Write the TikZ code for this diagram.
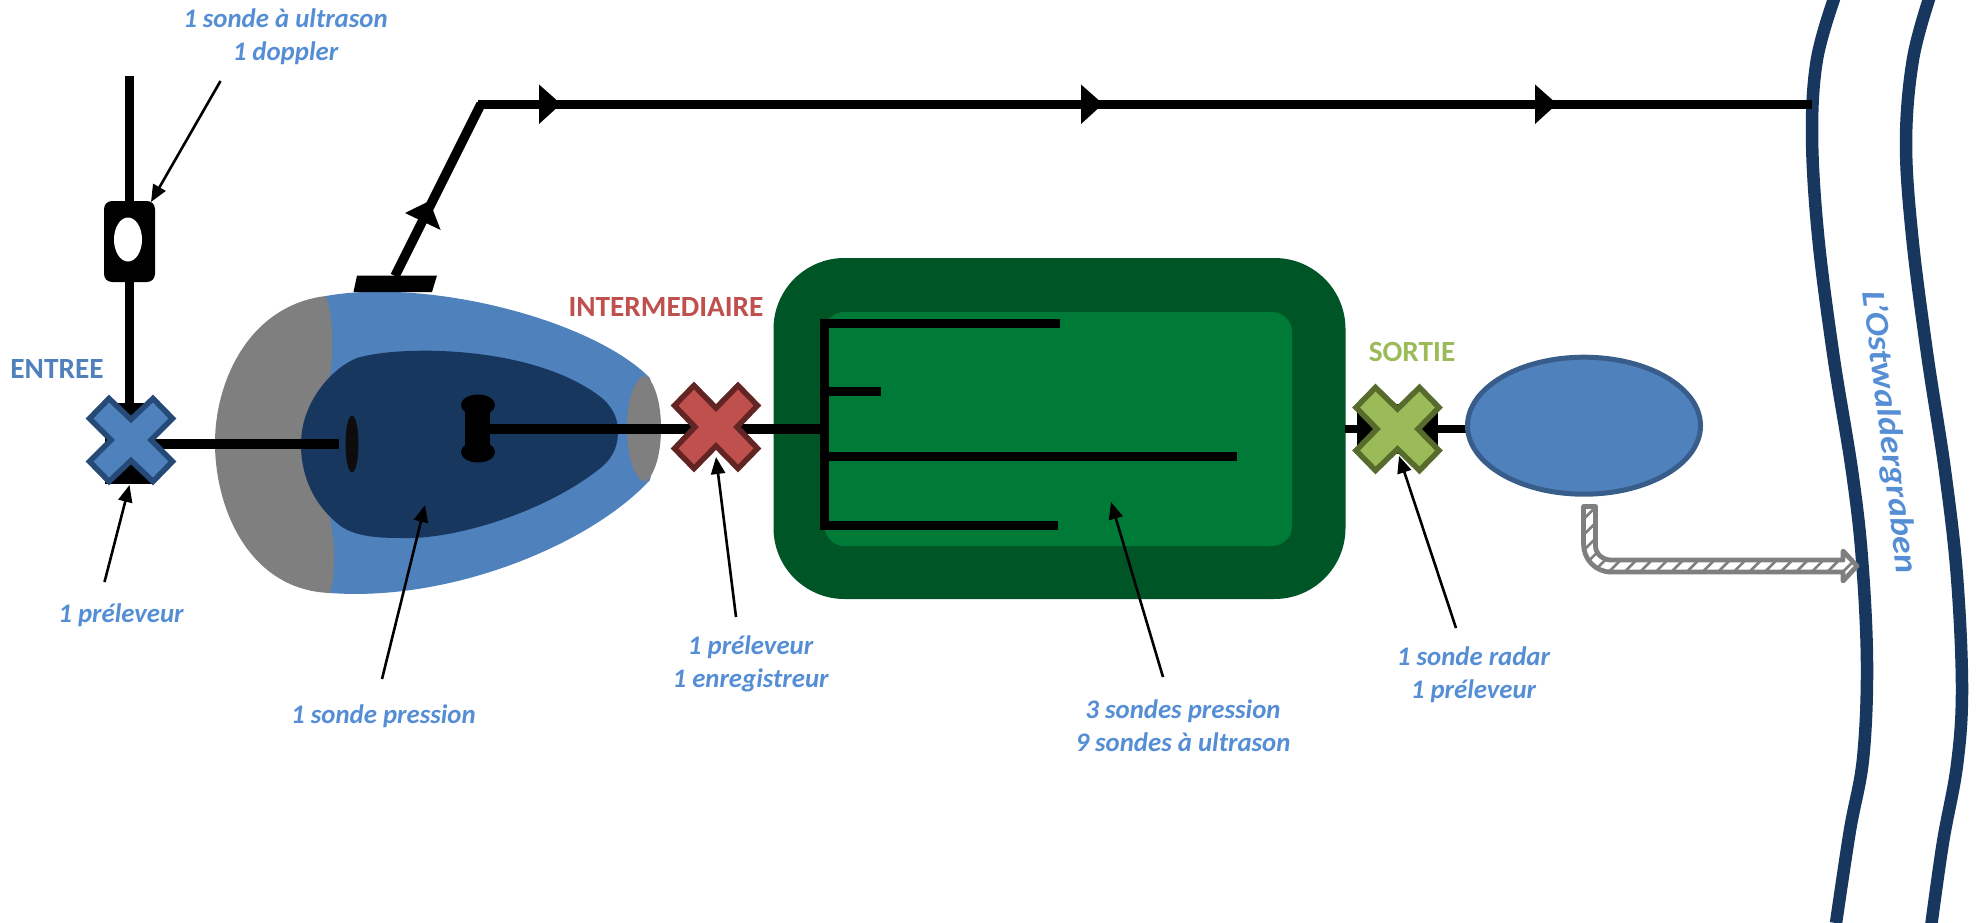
\documentclass[tikz,border=0pt]{standalone}
\usepackage{fontspec}
\setmainfont{Carlito}
\usetikzlibrary{arrows.meta,shapes.geometric}
\definecolor{oblue}{HTML}{4F81BD}
\definecolor{dblue}{HTML}{17375E}
\definecolor{oborder}{HTML}{385D8A}
\definecolor{xblue}{HTML}{254A78}
\definecolor{ogrey}{HTML}{7F7F7F}
\definecolor{ored}{HTML}{C0504D}
\definecolor{xred}{HTML}{632523}
\definecolor{ogreen}{HTML}{9BBB59}
\definecolor{xgreen}{HTML}{566B2C}
\definecolor{tankout}{HTML}{005527}
\definecolor{tankin}{HTML}{007A37}
\definecolor{txtblue}{HTML}{558ED5}
\tikzset{
  pipe/.style={line width=9.5pt,black},
  tooth/.style={line width=9pt,black},
  callout/.style={line width=2.6pt,black,-{Triangle[length=17pt,width=14pt]},shorten >=0pt},
  note/.style={font=\fontsize{26.8}{33}\selectfont\bfseries\itshape,text=txtblue,align=center,inner sep=0pt},
  zone/.style={font=\fontsize{29.3}{30}\selectfont\bfseries,inner sep=0pt},
  river/.style={line width=12.5pt,dblue,line cap=butt},
}
\newcommand{\xcross}[5]{% centre, fill, border, notch, side
  \filldraw[fill=#2,draw=#3,line width=5.5pt,miter limit=10,shift={(#1)}]
    (0,-#4) -- (22,-41.5) -- (41.5,-21.5) -- (#5,0) -- (41.5,21.5) -- (22,41.5) -- (0,#4)
    -- (-22,41.5) -- (-41.5,21.5) -- (-#5,0) -- (-41.5,-21.5) -- (-22,-41.5) -- cycle;}
\begin{document}
\begin{tikzpicture}[x=1pt,y=-1pt]
\useasboundingbox (0,0) rectangle (1978,923);
% River
\draw[river] plot[smooth,tension=.6] coordinates {(1835,-4) (1817,59) (1812,135) (1818,235) (1833,353) (1852,471) (1862,559) (1867,665) (1863,759) (1850,830) (1836,923)};
\draw[river] plot[smooth,tension=.6] coordinates {(1930,-4) (1913,59) (1906,141) (1912,235) (1927,353) (1945,471) (1957,577) (1962,689) (1957,765) (1943,842) (1931,927)};
% Named points
\coordinate (entree) at (131,440);
\coordinate (inter) at (716,427);
\coordinate (sortie) at (1397.5,429);
\coordinate (topstart) at (129.5,76);
\coordinate (bend) at (481,104);
\coordinate (capT) at (395,276);
\coordinate (riverhit) at (1812,104.5);
% Body
\fill[oblue] (326,296) .. controls (425,278) and (590,318) .. (650,378) -- (661,428) -- (650,480) .. controls (590,545) and (450,602) .. (330,593) -- cycle;
\fill[ogrey] (326,296) .. controls (250,305) and (215,380) .. (215,443) .. controls (215,510) and (250,590) .. (330,593) .. controls (336,570) and (335,540) .. (329,515) -- (328,385) .. controls (334,360) and (334,320) .. (326,296) -- cycle;
\fill[dblue] (301,444) .. controls (301,402) and (332,368) .. (357,358) .. controls (400,345) and (530,345) .. (598,395) .. controls (612,405) and (618,418) .. (618,431) .. controls (618,450) and (610,461) .. (598,470) .. controls (540,515) and (450,540) .. (402,538) .. controls (380,538) and (358,537) .. (342,527) .. controls (315,507) and (301,478) .. (301,444) -- cycle;
\fill[ogrey] (646,375) .. controls (656,385) and (661,405) .. (661,428) .. controls (661,452) and (656,472) .. (646,482) .. controls (634,480) and (627,455) .. (627,428) .. controls (627,400) and (634,378) .. (646,375) -- cycle;
\fill[black] (357,275.5) -- (437,275.5) -- (432,292) -- (353.5,292) -- cycle;
% Sensors inside the body
\node[ellipse,fill=black!95,minimum width=13pt,minimum height=57pt,inner sep=0pt] (eyelet) at (352,444) {};
\coordinate (eyeL) at (339,444);
\fill[black] (465,405) rectangle (490,452);
\node[ellipse,fill=black,minimum width=34pt,minimum height=21pt,inner sep=0pt] (dumbT) at (478,405) {};
\node[ellipse,fill=black,minimum width=34pt,minimum height=21pt,inner sep=0pt] (dumbB) at (478,452) {};
% Pipes
\coordinate (dumbR) at (490,429);
\coordinate (combL) at (824,429);
\coordinate (entreeR) at (154,444);
\node[rectangle,rounded corners=71pt,fill=tankout,minimum width=572pt,minimum height=341pt,inner sep=0pt] (tank) at (1059.5,428.5) {};
\node[rectangle,rounded corners=20pt,fill=tankin,minimum width=467.5pt,minimum height=234pt,inner sep=0pt] (tankinner) at (1058.3,429) {};
\draw[pipe] (dumbR) -- (combL);
\draw[pipe] (entreeR) -- (eyeL);
% Comb
\coordinate (combT) at (824.5,319);
\coordinate (combB) at (824.5,530);
\draw[tooth,line width=9pt] (combT) -- (combB);
\coordinate (t1a) at (824,323.5); \coordinate (t1b) at (1060,323.5);
\coordinate (t2a) at (824,391.5); \coordinate (t2b) at (881,391.5);
\coordinate (t3a) at (824,456.5); \coordinate (t3b) at (1237,456.5);
\coordinate (t4a) at (822,525.5); \coordinate (t4b) at (1058,525.5);
\draw[tooth] (t1a) -- (t1b);
\draw[tooth] (t2a) -- (t2b);
\draw[tooth] (t3a) -- (t3b);
\draw[tooth] (t4a) -- (t4b);
% Doppler
\draw[pipe] (topstart) -- (129.5,411);
\fill[black] (105,403) rectangle (154,484);
\node[rectangle,rounded corners=8pt,fill=black,minimum width=51pt,minimum height=81pt,inner sep=0pt] (doppler) at (129.5,241.5) {};
\node[ellipse,fill=white,minimum width=28pt,minimum height=44pt,inner sep=0pt] (dopplerhole) at (128,239.5) {};
% Crosses
\xcross{entree}{oblue}{xblue}{20.5}{20}
\xcross{inter}{ored}{xred}{19}{21}
\coordinate (tankR) at (1345,429);
\coordinate (pondL) at (1469,429);
\draw[line width=8pt,black] (tankR) -- (pondL);
\fill[black] (1357,412) rectangle (1438,446);
\fill[black] (1394.5,404) rectangle (1400.5,454);
\xcross{sortie}{ogreen}{xgreen}{20}{20.5}
% Pond
\node[ellipse,fill=oblue,draw=oborder,line width=5pt,minimum width=233pt,minimum height=137pt,inner sep=0pt] (pond) at (1584,425.7) {};
% Main line
\draw[line width=9.5pt,black,line join=miter] (capT) -- (bend);
\draw[pipe] (478,104.5) -- (riverhit);
\fill[black] (429.5,201) -- (405,213) -- (440.6,230) -- cycle;
\foreach \bx in {539,1081,1535}{
  \fill[black] (\bx,84.5) -- (\bx+22,104) -- (\bx,124) -- cycle;
}
% Hatched outflow arrow
\def\outflow{(1583.5,506.5) -- (1583.5,544) .. controls (1583.5,559.4) and (1595.6,572) .. (1611,572) -- (1843,572) -- (1843,581) -- (1857,566) -- (1843,551) -- (1843,560) -- (1611,560) .. controls (1603,560) and (1595.5,554) .. (1595.5,546) -- (1595.5,506.5) -- cycle}
\fill[white] \outflow;
\begin{scope}
  \clip \outflow;
  \foreach \hx in {1490,1505.6,...,1880}{
    \draw[ogrey,line width=2.6pt] (\hx-30,596) -- (\hx+90,476);
  }
\end{scope}
\draw[ogrey,line width=4.8pt,line join=round] \outflow;
% Labels
\node[note] (lbdoppler) at (285.5,37) {1 sonde à ultrason\\1 doppler};
\node[note] (lbentree) at (121,615) {1 préleveur};
\node[note] (lbpression) at (383.5,716) {1 sonde pression};
\node[note] (lbinter) at (750.6,664) {1 préleveur\\1 enregistreur};
\node[note] (lbtank) at (1183,726) {3 sondes pression\\9 sondes à ultrason};
\node[note] (lbsortie) at (1473.5,675) {1 sonde radar\\1 préleveur};
\node[zone,text=oblue] (zentree) at (57,369) {ENTREE};
\node[zone,text=ored] (zinter) at (666,307) {INTERMEDIAIRE};
\node[zone,text=ogreen] (zsortie) at (1412,352) {SORTIE};
\node[note,font=\fontsize{33}{36}\selectfont\bfseries\itshape,rotate=-83] (lbriver) at (1889,432) {\scalebox{1.1}[1]{L’Ostwaldergraben}};
% Callouts
\coordinate (c1) at (220.5,81); \coordinate (c1e) at (151,202);
\coordinate (c2) at (104.5,582); \coordinate (c2e) at (129.5,485);
\coordinate (c3) at (382,679); \coordinate (c3e) at (425,505);
\coordinate (c4) at (736,617); \coordinate (c4e) at (716,457);
\coordinate (c5) at (1163,677); \coordinate (c5e) at (1111,502);
\coordinate (c6) at (1456,628); \coordinate (c6e) at (1399,456);
\draw[callout] (c1) -- (c1e);
\draw[callout] (c2) -- (c2e);
\draw[callout] (c3) -- (c3e);
\draw[callout] (c4) -- (c4e);
\draw[callout] (c5) -- (c5e);
\draw[callout] (c6) -- (c6e);
\end{tikzpicture}
\end{document}
